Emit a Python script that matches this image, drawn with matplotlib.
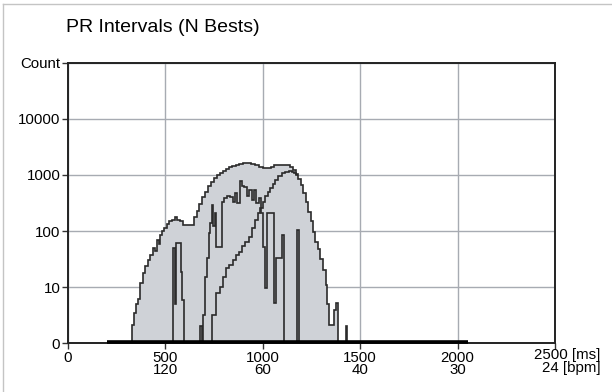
import numpy as np
import matplotlib
matplotlib.use("Agg")
import matplotlib.pyplot as plt
from matplotlib.ticker import NullLocator
from matplotlib.lines import Line2D

plt.rcParams['font.family'] = ['Liberation Sans', 'DejaVu Sans']

# total histogram (grey area), bin edges in ms
total_edges = [327, 338, 350, 360, 372, 385, 398, 410, 422, 435,
               448, 458, 466, 474, 482, 494, 506, 520, 535, 550,
               562, 575, 590, 605, 625, 645, 660, 675, 690, 705,
               720, 735, 750, 765, 780, 795, 810, 825, 840, 860,
               880, 900, 920, 940, 960, 980, 1000, 1020, 1040, 1060,
               1080, 1100, 1120, 1140, 1155, 1170, 1182, 1195, 1208, 1220,
               1232, 1245, 1258, 1270, 1283, 1296, 1310, 1322, 1332, 1340,
               1367, 1376, 1384, 1426, 1434]
total_counts = [2.1, 3.5, 5, 6.3, 12, 18, 24, 30, 38, 50,
                45, 70, 60, 85, 100, 115, 135, 150, 160, 175,
                160, 150, 130, 128, 130, 175, 225, 300, 400, 500,
                640, 760, 900, 1000, 1100, 1180, 1280, 1380, 1450, 1520,
                1580, 1640, 1650, 1600, 1500, 1400, 1350, 1330, 1400, 1480,
                1520, 1530, 1500, 1380, 1250, 1050, 850, 650, 480, 330,
                220, 150, 95, 65, 48, 32, 20, 11, 5, 2.1,
                3.9, 5.2, 0, 2]

# jagged middle series
mid_edges = [530, 538, 550, 555, 578, 587, 597, 678, 690, 695,
             703, 712, 722, 730, 738, 746, 755, 762, 789, 800,
             815, 830, 845, 858, 868, 884, 893, 905, 918, 930,
             943, 955, 967, 978, 990, 1000, 1010, 1022, 1055, 1070,
             1100, 1110, 1174, 1187, 1195]
mid_counts = [0, 50, 5, 62, 19, 6, 0, 2, 0, 3.2,
              15, 33, 92, 138, 295, 121, 210, 53, 337, 390,
              415, 400, 330, 475, 320, 770, 630, 600, 415, 550,
              360, 550, 315, 390, 210, 53, 9.6, 210, 5.2, 33,
              86, 0, 105, 0]

# smooth right hump
right_edges = [730, 738, 760, 780, 797, 811, 828, 845, 862, 879,
               895, 910, 927, 945, 961, 975, 987, 1000, 1012, 1025,
               1038, 1051, 1064, 1080, 1098, 1115, 1132, 1148, 1160, 1172,
               1182]
right_counts = [0, 3.2, 7.8, 10, 15, 22, 25, 31, 38, 43,
                55, 65, 80, 115, 160, 210, 257, 330, 415, 500,
                590, 700, 830, 960, 1090, 1150, 1200, 1150, 1100, 1000]

baseline_span = [200, 2055]

x_ticks = [0, 500, 1000, 1500, 2000]
x_labels = ['0', '500\n120', '1000\n60', '1500\n40', '2000\n30']
y_ticks = [1, 10, 100, 1000, 10000, 100000]
y_labels = ['0', '10', '100', '1000', '10000', 'Count']

line_col = '#2b2b2b'
fig = plt.figure(figsize=(6.12, 3.92), dpi=100)
ax = fig.add_axes([0.111, 0.124, 0.796, 0.716])

ax.stairs(np.maximum(total_counts, 1), total_edges, baseline=1, fill=True,
          color='#cfd2d7', zorder=2)
ax.stairs(np.maximum(total_counts, 1), total_edges, baseline=1,
          color=line_col, lw=1.2, zorder=3)
ax.stairs(np.maximum(mid_counts, 1), mid_edges, baseline=None,
          color=line_col, lw=1.2, zorder=3)
ax.stairs(np.maximum(right_counts, 1), right_edges, baseline=None,
          color=line_col, lw=1.2, zorder=3)
ax.plot(baseline_span, [1.04, 1.04], color='black', lw=2.6, solid_capstyle='butt',
        zorder=4, clip_on=False)

ax.set_yscale('log')
ax.set_xlim(0, 2500)
ax.set_ylim(1, 1e5)
ax.yaxis.set_minor_locator(NullLocator())
ax.set_yticks(y_ticks)
ax.set_yticklabels(y_labels)
ax.set_xticks(x_ticks + [2500])
ax.set_xticklabels(x_labels + [''], linespacing=0.85)
ax.tick_params(labelsize=10.8, length=4, width=1, color='#333333', pad=1.5)
ax.grid(True, color='#a7abb2', lw=1, zorder=0)
ax.set_axisbelow(True)
for s in ax.spines.values():
    s.set_color('#222222')
    s.set_linewidth(1.4)

ax.text(2392, -0.018, '2500 [ms]\n24 [bpm]', transform=ax.get_xaxis_transform(),
        ha='left', va='top', multialignment='right', fontsize=10.8, linespacing=0.85)

fig.text(0.108, 0.931, 'PR Intervals (N Bests)', fontsize=14, va='center')
fig.lines.append(Line2D([0.005, 0.005], [0.0, 0.99], transform=fig.transFigure,
                        color='#c4c4c4', lw=1))
fig.lines.append(Line2D([0.005, 1.0], [0.99, 0.99], transform=fig.transFigure,
                        color='#c4c4c4', lw=1))

fig.savefig('out.png', dpi=100)
